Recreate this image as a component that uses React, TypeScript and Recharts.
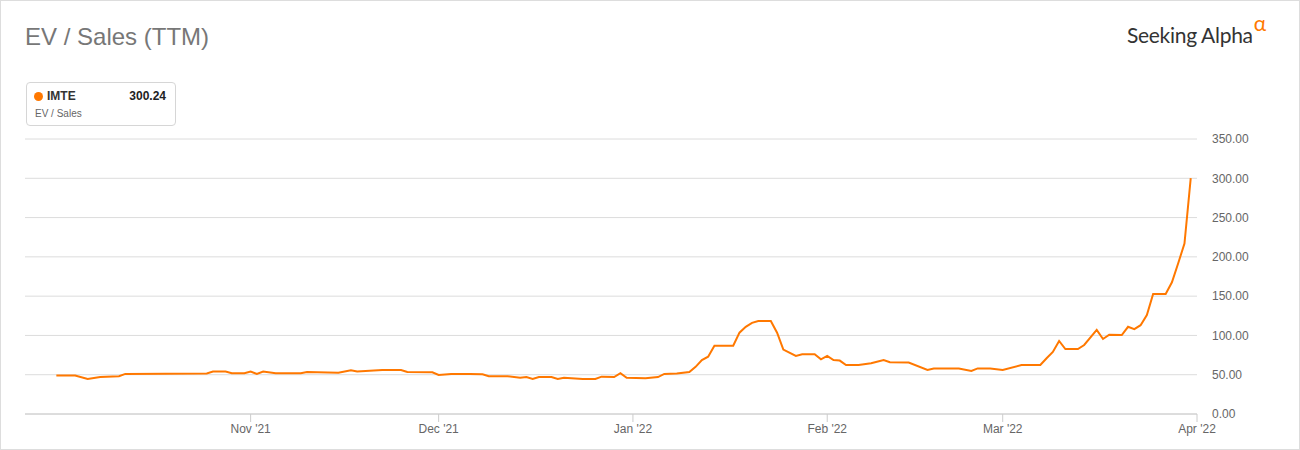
import { CartesianGrid, Line, LineChart, XAxis, YAxis } from 'recharts'

const ORANGE = '#ff7800'
const GRID = '#dcdcdc'
const LABEL = '#666'
const FONT = '"Liberation Sans", Arial, sans-serif'

// EV / Sales (TTM) readings for IMTE
const dates = [
  '2021-10-01', '2021-10-04', '2021-10-06', '2021-10-08', '2021-10-11', '2021-10-12',
  '2021-10-25', '2021-10-26', '2021-10-28', '2021-10-29', '2021-10-31', '2021-11-01',
  '2021-11-02', '2021-11-03', '2021-11-05', '2021-11-09', '2021-11-10', '2021-11-15',
  '2021-11-17', '2021-11-18', '2021-11-22', '2021-11-25', '2021-11-26', '2021-11-30',
  '2021-12-01', '2021-12-03', '2021-12-06', '2021-12-08', '2021-12-09', '2021-12-12',
  '2021-12-14', '2021-12-15', '2021-12-16', '2021-12-17', '2021-12-19', '2021-12-20',
  '2021-12-21', '2021-12-24', '2021-12-26', '2021-12-27', '2021-12-29', '2021-12-30',
  '2021-12-31', '2022-01-03', '2022-01-05', '2022-01-06', '2022-01-08', '2022-01-10',
  '2022-01-11', '2022-01-12', '2022-01-13', '2022-01-14', '2022-01-17', '2022-01-18',
  '2022-01-19', '2022-01-20', '2022-01-21', '2022-01-23', '2022-01-24', '2022-01-25',
  '2022-01-27', '2022-01-28', '2022-01-30', '2022-01-31', '2022-02-01', '2022-02-02',
  '2022-02-03', '2022-02-04', '2022-02-06', '2022-02-08', '2022-02-10', '2022-02-11',
  '2022-02-14', '2022-02-17', '2022-02-18', '2022-02-22', '2022-02-24', '2022-02-25',
  '2022-02-27', '2022-03-01', '2022-03-04', '2022-03-07', '2022-03-08', '2022-03-09',
  '2022-03-10', '2022-03-11', '2022-03-13', '2022-03-14', '2022-03-16', '2022-03-17',
  '2022-03-18', '2022-03-20', '2022-03-21', '2022-03-22', '2022-03-23', '2022-03-24',
  '2022-03-25', '2022-03-27', '2022-03-28', '2022-03-29', '2022-03-30', '2022-03-31',
]

const values = [
  49, 49, 44.5, 47, 48, 51,
  51.5, 54, 54, 52, 52, 54,
  51, 54, 52, 52, 53.5, 52.5,
  55.6, 54, 56, 56, 53.5, 53,
  49.6, 51, 51, 50.5, 48, 48,
  46, 47, 44.5, 47, 47, 44.5,
  46, 44.5, 44.5, 47.5, 47, 52,
  46, 45.5, 47, 51, 51.5, 53.5,
  60, 68.7, 73, 87, 87, 103.5,
  111, 116, 118.4, 118.4, 103.5, 82,
  74, 76, 76, 69.6, 74, 68.7,
  68, 62.4, 62.4, 64.5, 68.7, 65.8,
  65.5, 56, 58, 58, 54.7, 58,
  58, 56, 62.4, 62.4, 71, 79,
  93, 82.7, 82.7, 87.8, 107, 95.5,
  101, 100.5, 111, 108, 113, 126,
  152.7, 152.7, 167.6, 191.8, 217, 300.24,
]

const tickDates = ['2021-11-01', '2021-12-01', '2022-01-01', '2022-02-01', '2022-03-01', '2022-04-01']
const tickLabels = ["Nov '21", "Dec '21", "Jan '22", "Feb '22", "Mar '22", "Apr '22"]
const yTicks = [0, 50, 100, 150, 200, 250, 300, 350]

const toTime = (d: string) => Date.parse(d + 'T00:00:00Z')

const data = dates.map((d, i) => ({ t: toTime(d), v: values[i] }))
const xTicks = tickDates.map(toTime)
const xDomain = [toTime('2021-09-26'), toTime('2022-04-01')]

export default function App() {
  return (
    <div
      style={{
        position: 'absolute',
        left: 0,
        top: 0,
        width: 1300,
        height: 450,
        boxSizing: 'border-box',
        border: '1px solid #dddddd',
        background: '#fff',
        fontFamily: FONT,
      }}
    >
      <div style={{ position: 'absolute', left: 24, top: 22, fontSize: 24, color: '#777' }}>
        EV / Sales (TTM)
      </div>

      <div
        style={{
          position: 'absolute',
          left: 1126,
          top: 21,
          fontFamily: 'Lato, "Open Sans", sans-serif',
          fontSize: 21,
          color: '#333',
          letterSpacing: -0.3,
        }}
      >
        Seeking Alpha
        <span style={{ color: ORANGE, fontSize: 21, position: 'relative', top: -12, marginLeft: 1 }}>α</span>
      </div>

      {/* legend card */}
      <div
        style={{
          position: 'absolute',
          left: 25,
          top: 81,
          width: 150,
          height: 44,
          boxSizing: 'border-box',
          border: '1px solid #d6d6d6',
          borderRadius: 4,
        }}
      >
        <span
          style={{
            position: 'absolute',
            left: 7,
            top: 9,
            width: 9,
            height: 9,
            borderRadius: '50%',
            background: ORANGE,
          }}
        />
        <span style={{ position: 'absolute', left: 20, top: 6, fontSize: 12, fontWeight: 700, color: '#333' }}>
          IMTE
        </span>
        <span style={{ position: 'absolute', right: 9, top: 6, fontSize: 12, fontWeight: 700, color: '#222' }}>
          300.24
        </span>
        <span style={{ position: 'absolute', left: 8, top: 25, fontSize: 10, color: '#666' }}>
          EV / Sales
        </span>
      </div>

      <div style={{ position: 'absolute', left: -1, top: -1 }}>
        <LineChart
          width={1300}
          height={450}
          data={data}
          margin={{ top: 139, right: 43, bottom: 0, left: 25 }}
        >
          <CartesianGrid stroke={GRID} vertical={false} />
          <XAxis
            dataKey="t"
            type="number"
            scale="time"
            domain={xDomain}
            ticks={xTicks}
            tickFormatter={(t) => tickLabels[xTicks.indexOf(t)] ?? ''}
            tick={{ fill: LABEL, fontSize: 12, fontFamily: FONT }}
            stroke="#cccccc"
            tickSize={8}
            tickMargin={2}
            height={36}
            allowDataOverflow
          />
          <YAxis
            orientation="right"
            domain={[0, 350]}
            ticks={yTicks}
            tickFormatter={(v) => Number(v).toFixed(2)}
            tick={{ fill: LABEL, fontSize: 12, fontFamily: FONT }}
            axisLine={false}
            tickLine={false}
            tickMargin={9}
            width={60}
          />
          <Line
            type="linear"
            dataKey="v"
            stroke={ORANGE}
            strokeWidth={2}
            dot={false}
            isAnimationActive={false}
          />
        </LineChart>
      </div>
    </div>
  )
}
